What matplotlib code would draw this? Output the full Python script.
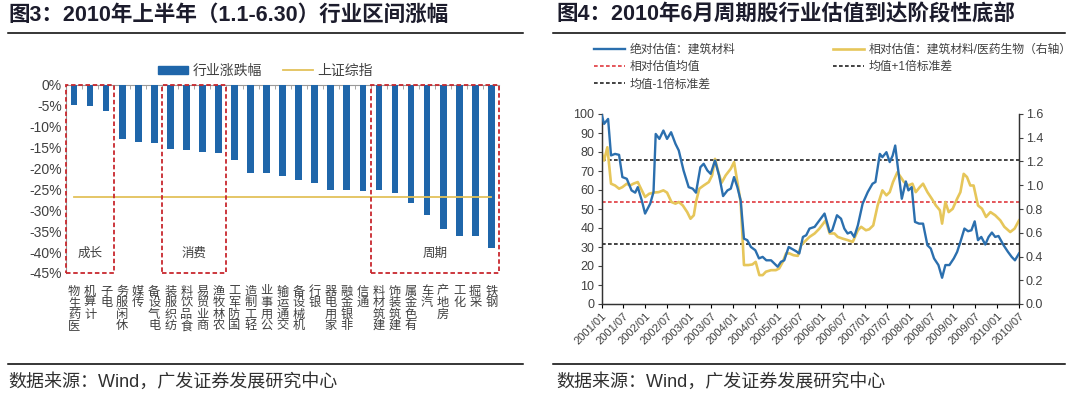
import matplotlib
matplotlib.use("Agg")
import matplotlib.pyplot as plt
from matplotlib.lines import Line2D
from matplotlib.patches import Rectangle, Patch
import numpy as np

plt.rcParams['font.family'] = ['Liberation Sans', 'Noto Sans CJK SC', 'DejaVu Sans']
plt.rcParams['axes.unicode_minus'] = False

# ---- left chart data: 2010 H1 industry returns (%)
industries = ['医药生物', '计算机', '电子', '休闲服务', '传媒', '电气设备', '纺织服装',
              '食品饮料', '商业贸易', '农林牧渔', '国防军工', '轻工制造', '公用事业',
              '交通运输', '机械设备', '银行', '家用电器', '非银金融', '通信', '建筑材料',
              '建筑装饰', '有色金属', '汽车', '房地产', '化工', '采掘', '钢铁']
returns = [-4.7, -5.1, -6.2, -12.9, -13.7, -14.0, -15.3, -15.5, -16.0, -16.3, -18.0,
           -21.1, -21.1, -21.8, -22.8, -23.4, -25.2, -25.2, -25.3, -25.2, -25.8, -28.2,
           -31.1, -34.4, -36.2, -36.2, -38.9]
sh_index = -26.8
groups = [('成长', 0, 2), ('消费', 6, 9), ('周期', 19, 26)]

# ---- right chart data: months since 2001/01
abs_month = [0, 0.7, 1.8, 2.6, 3.7, 4.8, 5.7, 6.9, 8.2, 9.2, 9.9, 11, 11.9, 13.3, 14.2,
             14.8, 15.8, 16.9, 17.9, 19, 20.2, 21.1, 22.4, 23.8, 24.9, 25.8, 27, 27.9,
             28.9, 29.8, 31, 32.1, 33.2, 34.4, 35.3, 36.2, 37.1, 38, 38.9, 39.8, 40.8,
             42, 43, 44, 45, 46.3, 47.2, 48.1, 49, 49.9, 51.1, 52.2, 53.1, 54, 55, 55.9,
             56.8, 58.2, 59.5, 60.9, 62.3, 63, 64.3, 65.4, 66.3, 67.2, 68.1, 69, 70,
             71.3, 72.7, 74, 74.8, 76, 76.7, 77.8, 78.7, 79.5, 80.2, 80.8, 82, 83.1,
             83.8, 84.7, 85.6, 86.7, 87.8, 89, 89.9, 90.8, 92, 93, 93.9, 95, 96.2, 97.1,
             98, 99.1, 100.1, 101, 101.9, 102.8, 103.7, 104.8, 105.7, 106.6, 107.5,
             108.4, 109.8, 111, 112, 112.9, 114]
abs_pe = [100, 94.8, 97.4, 78.2, 79, 78.5, 66.8, 65.9, 59.8, 58.6, 61.5, 54.5, 47.6,
          52.8, 58.9, 89.5, 86.9, 91.3, 86.9, 90.4, 84.3, 80.8, 70.3, 61.5, 60.7, 58.6,
          72, 73.8, 70.3, 68.5, 75.5, 67.7, 56.8, 59.8, 60.7, 66.8, 61.5, 54.5, 34.4,
          33.6, 30, 28.3, 24, 24.8, 23, 23, 21.3, 19.6, 22.2, 23, 30, 28.8, 27.8, 26.6,
          35.3, 36.2, 39.7, 40.6, 44, 47.6, 37.9, 38.8, 46.7, 44.9, 39.7, 37.1, 37.9,
          35.3, 41.4, 52.8, 58.9, 63.3, 64.2, 79, 77.3, 79.9, 74.7, 78.1, 83.4, 73.8,
          55.4, 64.5, 59.8, 61.5, 43.2, 42.3, 42.3, 30.9, 29.2, 24, 20.5, 13.8, 20.5,
          20.5, 24, 27.4, 32.7, 39.7, 38.3, 38.8, 43.5, 33.6, 35.3, 31.3, 35.3, 37.6,
          35.3, 35.8, 30.9, 27.4, 24.8, 23, 26.6]
rel_month = [0, 0.7, 1.6, 2.6, 3.7, 4.8, 5.7, 6.9, 7.8, 8.7, 9.9, 11, 11.9, 13, 14.2,
             15.6, 16.9, 17.9, 19.1, 20.2, 21.1, 22.2, 23.4, 24.3, 25.2, 25.8, 26.7,
             27.9, 29.3, 30.2, 31, 31.9, 32.8, 33.9, 35.3, 36.2, 37.1, 38, 38.9, 40.1,
             41.2, 42.1, 43.1, 44, 44.9, 46.3, 47.6, 48.5, 49.5, 50.4, 51.3, 52.4, 53.6,
             54.5, 55.4, 56.8, 58.2, 59.5, 61.2, 62.3, 63.6, 64.5, 65.9, 67.2, 68.6, 70,
             70.9, 72.2, 73.1, 74.2, 75.4, 76.7, 77.8, 78.7, 79.6, 80.8, 81.7, 82.6,
             83.8, 84.9, 85.8, 86.9, 87.8, 89, 90.2, 91.3, 92.4, 93, 93.9, 94.8, 95.9,
             97.1, 98, 98.9, 99.8, 100.7, 101.6, 102.8, 103.9, 105, 106.2, 107.5, 108.9,
             110, 111.6, 112.8, 114]
rel_pe = [1.278, 1.208, 1.32, 1.013, 0.998, 0.971, 0.984, 1.013, 0.998, 1.013, 1.027,
          0.957, 0.901, 0.928, 0.938, 0.942, 0.957, 0.938, 0.859, 0.845, 0.859, 0.83,
          0.774, 0.718, 0.747, 0.859, 0.971, 0.998, 1.027, 1.083, 1.222, 1.11, 1.021,
          1.083, 1.139, 1.195, 1.027, 0.859, 0.328, 0.328, 0.333, 0.355, 0.243, 0.243,
          0.272, 0.285, 0.285, 0.299, 0.355, 0.426, 0.426, 0.411, 0.405, 0.494, 0.523,
          0.565, 0.594, 0.635, 0.704, 0.594, 0.594, 0.565, 0.55, 0.538, 0.523, 0.621,
          0.65, 0.621, 0.629, 0.662, 0.83, 0.957, 0.915, 0.942, 1.027, 1.11, 1.069,
          1.027, 0.998, 1.013, 0.942, 0.984, 1.013, 0.942, 0.886, 0.83, 0.789, 0.677,
          0.859, 0.774, 0.802, 0.886, 0.942, 1.096, 1.069, 0.998, 0.998, 0.83, 0.802,
          0.733, 0.774, 0.747, 0.704, 0.65, 0.606, 0.635, 0.704]
rel_mean, rel_up, rel_down = 0.86, 1.21, 0.505
date_labels = ['2001/01', '2001/07', '2002/01', '2002/07', '2003/01', '2003/07',
               '2004/01', '2004/07', '2005/01', '2005/07', '2006/01', '2006/07',
               '2007/01', '2007/07', '2008/01', '2008/07', '2009/01', '2009/07',
               '2010/01', '2010/07']

W, H = 1080, 397
fig = plt.figure(figsize=(W / 100, H / 100), dpi=100)
title_c = '#1c1c2c'
text_c = '#404040'

def fx(px):
    return px / W

def fy(py):
    return 1 - py / H

# titles, rules and sources
fig.text(fx(8), fy(15), '图3：2010年上半年（1.1-6.30）行业区间涨幅', fontsize=15.5,
         fontweight='bold', color=title_c, va='center')
fig.text(fx(556), fy(15), '图4：2010年6月周期股行业估值到达阶段性底部', fontsize=15.5,
         fontweight='bold', color=title_c, va='center')
for x0, x1 in [(8, 523), (553, 1065)]:
    fig.add_artist(Line2D([fx(x0), fx(x1)], [fy(32.5)] * 2, color='black', lw=1.1))
    fig.add_artist(Line2D([fx(x0), fx(x1)], [fy(364)] * 2, color='black', lw=1.1))
fig.text(fx(8), fy(382), '数据来源：Wind，广发证券发展研究中心', fontsize=13,
         color='#303030', va='center')
fig.text(fx(556), fy(382), '数据来源：Wind，广发证券发展研究中心', fontsize=13,
         color='#303030', va='center')

# ---- left chart
bar_c = '#1f66aa'
ax = fig.add_axes([fx(66), fy(273), fx(499.3 - 66), (273 - 85) / H])
x = np.arange(len(industries))
ax.bar(x, returns, width=0.42, color=bar_c, zorder=3)
ax.plot(x, [sh_index] * len(x), color='#e3c25a', lw=1.3, zorder=4)
ax.set_xlim(-0.5, len(industries) - 0.5)
ax.set_ylim(-45, 0)
ax.set_yticks(np.arange(-45, 1, 5))
ax.set_yticklabels(['%d%%' % v for v in np.arange(-45, 1, 5)], fontsize=10, color=text_c)
ax.set_xticks(x)
ax.set_xticklabels(['\n'.join(reversed(s)) for s in industries], fontsize=8.8,
                   color=text_c, va='top', linespacing=0.95)
ax.tick_params(axis='x', length=0, pad=9)
ax.tick_params(axis='y', length=0, pad=3)
ax.set_xticks(np.arange(-0.5, len(industries), 1), minor=True)
ax.tick_params(axis='x', which='minor', top=True, bottom=False, direction='in',
               length=3, color='#999999')
for s in ['right', 'bottom']:
    ax.spines[s].set_visible(False)
ax.spines['left'].set_color('#9a9a9a')
ax.spines['top'].set_color('#9a9a9a')
for name, i0, i1 in groups:
    ax.add_patch(Rectangle((i0 - 0.5, -45), i1 - i0 + 1, 45, fill=False,
                           edgecolor='#c8282e', ls=(0, (2.5, 1.5)), lw=1.3,
                           clip_on=False, zorder=5))
    ax.text((i0 + i1) / 2, -40.3, name, ha='center', va='center', fontsize=9,
            color='#404040')
leg_handles = [Patch(color=bar_c), Line2D([], [], color='#e3c25a', lw=1.3)]
ax.legend(leg_handles, ['行业涨跌幅', '上证综指'], loc='center',
          bbox_to_anchor=(0.46, 1.075), ncol=2, frameon=False, fontsize=10,
          handlelength=2.2, handleheight=0.6, handletextpad=0.3, columnspacing=1.5,
          labelcolor=text_c)

# ---- right chart
blue_c = '#2b6fae'
yel_c = '#e6c65a'
ax1 = fig.add_axes([fx(601.5), fy(304), fx(1019 - 601.5), (304 - 114) / H])
ax2 = ax1.twinx()
l1, = ax1.plot(abs_month, abs_pe, color=blue_c, lw=1.7, zorder=4)
l2, = ax2.plot(rel_month, rel_pe, color=yel_c, lw=1.9, zorder=3)
dash = (0, (2.2, 1.4))
l3 = ax2.axhline(rel_mean, color='#e0393e', ls=dash, lw=1.2)
l4 = ax2.axhline(rel_up, color='#222222', ls=dash, lw=1.2)
l5 = ax2.axhline(rel_down, color='#222222', ls=dash, lw=1.2)
ax1.set_zorder(ax2.get_zorder() + 1)
ax1.patch.set_visible(False)
ax1.set_xlim(0, 114)
ax1.set_ylim(0, 100)
ax2.set_ylim(0, 1.6)
ax1.set_yticks(np.arange(0, 101, 10))
ax2.set_yticks(np.arange(0, 1.61, 0.2))
ax2.set_yticklabels(['%.1f' % v for v in np.arange(0, 1.61, 0.2)])
ax1.set_xticks(np.arange(0, 115, 6))
ax1.set_xticklabels(date_labels, rotation=45, ha='right', rotation_mode='anchor',
                    fontsize=8, color=text_c)
ax1.tick_params(axis='y', labelsize=9, colors=text_c, length=3, width=0.8, pad=2)
ax2.tick_params(axis='y', labelsize=9, colors=text_c, length=3, width=0.8, pad=2)
ax1.tick_params(axis='x', length=3, width=0.8, pad=2)
for a in (ax1, ax2):
    a.spines['top'].set_visible(False)
    for s in ['left', 'right', 'bottom']:
        a.spines[s].set_color('#333333')
        a.spines[s].set_linewidth(0.9)
fig.legend([l1, l3, l5, l2, l4],
           ['绝对估值：建筑材料', '相对估值均值', '均值-1倍标准差',
            '相对估值：建筑材料/医药生物（右轴）', '均值+1倍标准差'],
           loc='upper left', bbox_to_anchor=(fx(594), fy(44)), ncol=2, frameon=False,
           fontsize=8.5, handlelength=2.6, handletextpad=0.4, columnspacing=8.3,
           labelspacing=0.45, labelcolor=text_c, borderaxespad=0, borderpad=0)

fig.savefig('out.png', dpi=100)
